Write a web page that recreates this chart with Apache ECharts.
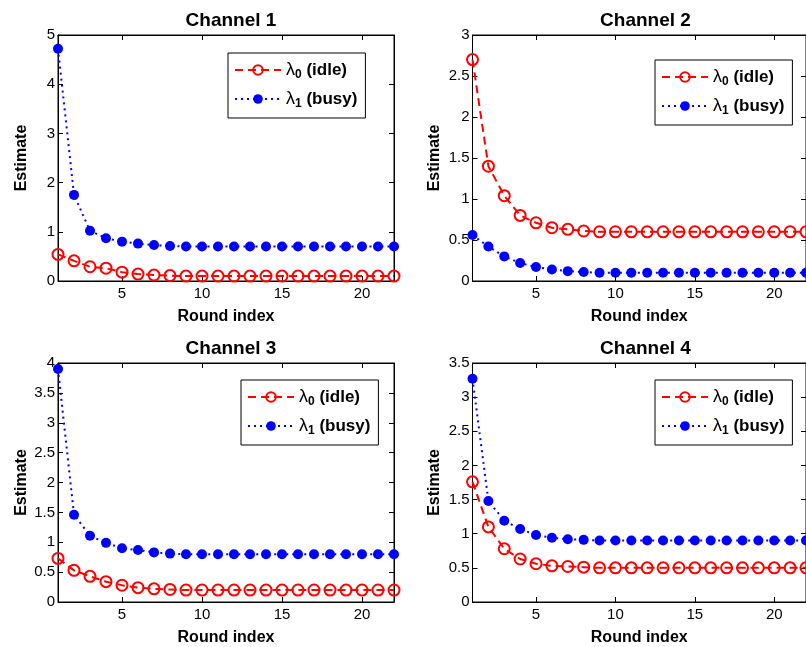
<!DOCTYPE html>
<html>
<head>
<meta charset="utf-8">
<script src="https://cdn.jsdelivr.net/npm/echarts@6/dist/echarts.min.js"></script>
<style>
html,body{margin:0;padding:0;background:#fff;}
#c{width:806px;height:647px;}
</style>
</head>
<body>
<div id="c"></div>
<script>
const rounds = [1,2,3,4,5,6,7,8,9,10,11,12,13,14,15,16,17,18,19,20,21,22];
const xTicks = [5,10,15,20];
const titles = ['Channel 1','Channel 2','Channel 3','Channel 4'];
const yMax = [5,3,4,3.5];
const yStep = [1,0.5,0.5,0.5];

const ch1Idle = [0.54,0.41,0.29,0.26,0.18,0.14,0.12,0.11,0.10,0.10,0.10,0.10,0.10,0.10,0.10,0.10,0.10,0.10,0.10,0.10,0.10,0.10];
const ch1Busy = [4.72,1.75,1.02,0.87,0.80,0.76,0.73,0.71,0.70,0.70,0.70,0.70,0.70,0.70,0.70,0.70,0.70,0.70,0.70,0.70,0.70,0.70];
const ch2Idle = [2.70,1.40,1.04,0.80,0.71,0.65,0.63,0.61,0.60,0.60,0.60,0.60,0.60,0.60,0.60,0.60,0.60,0.60,0.60,0.60,0.60,0.60];
const ch2Busy = [0.56,0.42,0.30,0.22,0.17,0.14,0.12,0.11,0.10,0.10,0.10,0.10,0.10,0.10,0.10,0.10,0.10,0.10,0.10,0.10,0.10,0.10];
const ch3Idle = [0.73,0.53,0.43,0.34,0.28,0.24,0.22,0.21,0.20,0.20,0.20,0.20,0.20,0.20,0.20,0.20,0.20,0.20,0.20,0.20,0.20,0.20];
const ch3Busy = [3.90,1.46,1.11,0.99,0.90,0.87,0.83,0.81,0.80,0.80,0.80,0.80,0.80,0.80,0.80,0.80,0.80,0.80,0.80,0.80,0.80,0.80];
const ch4Idle = [1.76,1.10,0.78,0.63,0.56,0.53,0.52,0.51,0.50,0.50,0.50,0.50,0.50,0.50,0.50,0.50,0.50,0.50,0.50,0.50,0.50,0.50];
const ch4Busy = [3.27,1.48,1.19,1.07,0.98,0.94,0.92,0.91,0.90,0.90,0.90,0.90,0.90,0.90,0.90,0.90,0.90,0.90,0.90,0.90,0.90,0.90];

const idleSets = [ch1Idle, ch2Idle, ch3Idle, ch4Idle];
const busySets = [ch1Busy, ch2Busy, ch3Busy, ch4Busy];
const IDLE = 'λ0 (idle)';
const BUSY = 'λ1 (busy)';

const FONT = '"Liberation Sans", Arial, Helvetica, sans-serif';
const grids = [
  {left: 58, top: 35, width: 336, height: 246},
  {left: 472.5, top: 35, width: 336, height: 246},
  {left: 58, top: 363, width: 336, height: 246},
  {left: 472.5, top: 363, width: 336, height: 246}
];
const legendPos = [
  {left: 228, top: 53},
  {left: 655, top: 60},
  {left: 241, top: 380},
  {left: 655, top: 380}
];

const option = {
  backgroundColor: '#fff',
  animation: false,
  title: [], grid: [], xAxis: [], yAxis: [], series: [], legend: []
};

grids.forEach((g, i) => {
  option.grid.push({left: g.left, top: g.top, width: g.width, height: g.height,
    show: true, borderColor: '#000', borderWidth: 1, backgroundColor: 'transparent', containLabel: false});
  option.title.push({
    text: titles[i], left: g.left + g.width / 2, top: g.top - 29, textAlign: 'center',
    textStyle: {fontFamily: FONT, fontSize: 19, fontWeight: 'bold', color: '#000'}
  });
  option.xAxis.push({
    type: 'value', gridIndex: i, min: 1, max: 22, position: 'bottom',
    name: 'Round index', nameLocation: 'middle', nameGap: 28,
    nameTextStyle: {fontFamily: FONT, fontSize: 16, fontWeight: 'bold', color: '#000'},
    axisLine: {show: true, onZero: false, lineStyle: {color: '#000', width: 1}},
    axisTick: {show: true, inside: true, length: 5, customValues: xTicks, lineStyle: {color: '#000'}},
    axisLabel: {show: true, customValues: xTicks, fontFamily: FONT, fontSize: 15, color: '#000', margin: 5},
    splitLine: {show: false}
  });
  option.xAxis.push({
    type: 'value', gridIndex: i, min: 1, max: 22, position: 'top',
    axisLine: {show: true, onZero: false, lineStyle: {color: '#000', width: 1}},
    axisTick: {show: true, inside: true, length: 5, customValues: xTicks, lineStyle: {color: '#000'}},
    axisLabel: {show: false}, splitLine: {show: false}
  });
  option.yAxis.push({
    type: 'value', gridIndex: i, min: 0, max: yMax[i], interval: yStep[i], position: 'left',
    name: 'Estimate', nameLocation: 'middle', nameGap: i % 2 === 0 ? 28 : 30,
    nameTextStyle: {fontFamily: FONT, fontSize: 16, fontWeight: 'bold', color: '#000'},
    axisLine: {show: true, onZero: false, lineStyle: {color: '#000', width: 1}},
    axisTick: {show: true, inside: true, length: 5, lineStyle: {color: '#000'}},
    axisLabel: {show: true, fontFamily: FONT, fontSize: 15, color: '#000', margin: 3},
    splitLine: {show: false}
  });
  option.yAxis.push({
    type: 'value', gridIndex: i, min: 0, max: yMax[i], interval: yStep[i], position: 'right',
    axisLine: {show: true, onZero: false, lineStyle: {color: '#000', width: 1}},
    axisTick: {show: true, inside: true, length: 5, lineStyle: {color: '#000'}},
    axisLabel: {show: false}, splitLine: {show: false}
  });
  option.series.push({
    type: 'line', name: IDLE, xAxisIndex: 2 * i, yAxisIndex: 2 * i,
    data: rounds.map((r, k) => [r, idleSets[i][k]]),
    symbol: 'circle', symbolSize: 11, clip: false, z: 3,
    itemStyle: {color: 'rgba(255,255,255,0)', borderColor: '#ff0000', borderWidth: 2},
    lineStyle: {color: '#ff0000', width: 2, type: [8, 5]}
  });
  option.series.push({
    type: 'line', name: BUSY, xAxisIndex: 2 * i, yAxisIndex: 2 * i,
    data: rounds.map((r, k) => [r, busySets[i][k]]),
    symbol: 'circle', symbolSize: 10, clip: false, z: 4,
    itemStyle: {color: '#0000ff'},
    lineStyle: {color: '#0000ff', width: 2, type: [2, 4]}
  });
  option.legend.push({
    left: legendPos[i].left, top: legendPos[i].top,
    orient: 'vertical', data: [IDLE, BUSY],
    backgroundColor: '#fff', borderColor: '#000', borderWidth: 1,
    padding: [8, 8, 8, 6], itemGap: 9, itemWidth: 46, itemHeight: 12,
    selectedMode: false,
    formatter: function (name) {
      return name === IDLE ? '{g|λ}{s|0}{t| (idle)}' : '{g|λ}{s|1}{t| (busy)}';
    },
    textStyle: {
      color: '#000', fontFamily: FONT,
      rich: {
        g: {fontFamily: FONT, fontSize: 18, color: '#000', lineHeight: 22},
        s: {fontFamily: FONT, fontSize: 12, fontWeight: 'bold', color: '#000', padding: [10, 0, 0, 0]},
        t: {fontFamily: FONT, fontSize: 17, fontWeight: 'bold', color: '#000', lineHeight: 22}
      }
    }
  });
});

const chart = echarts.init(document.getElementById('c'), null, {renderer: 'canvas'});
chart.setOption(option);
</script>
</body>
</html>
